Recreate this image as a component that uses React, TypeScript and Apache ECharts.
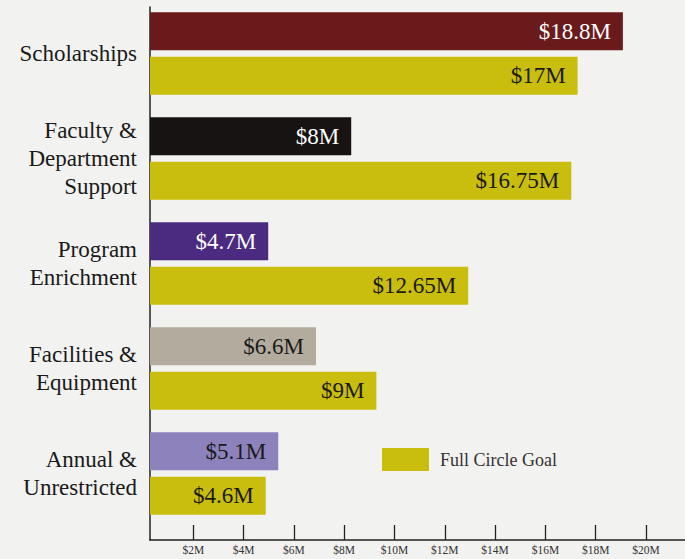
import React, { useEffect, useRef } from "react";
import * as echarts from "echarts";

const categories = [
  "Scholarships",
  "Faculty &\nDepartment\nSupport",
  "Program\nEnrichment",
  "Facilities &\nEquipment",
  "Annual &\nUnrestricted",
];
const raised = [18.8, 8, 4.7, 6.6, 5.1];
const raisedLabels = ["$18.8M", "$8M", "$4.7M", "$6.6M", "$5.1M"];
const goal = [17, 16.75, 12.65, 9, 4.6];
const goalLabels = ["$17M", "$16.75M", "$12.65M", "$9M", "$4.6M"];
const goalName = "Full Circle Goal";

const raisedColors = ["#6b1a1b", "#171313", "#4b2b7f", "#b3ab9d", "#8d82bc"];
const raisedLabelColors = ["#ffffff", "#ffffff", "#ffffff", "#1a1a1a", "#1a1a1a"];
const goalColor = "#c9bd0e";
const FONT = "'Liberation Serif', 'DejaVu Serif', serif";

export default function App() {
  const ref = useRef<HTMLDivElement>(null);
  useEffect(() => {
    if (!ref.current) return;
    const chart = echarts.init(ref.current, null, { renderer: "svg" });
    const dataMax = 21.27;
    const tickShift = 0.28;
    chart.setOption({
      animation: false,
      backgroundColor: "#f2f2f0",
      textStyle: { fontFamily: FONT },
      grid: [
        { left: 150, right: 0, top: 1, height: 525 },
        { left: 150, right: 0, top: 7, bottom: 19 },
      ],
      xAxis: [
        { type: "value", gridIndex: 0, min: 0, max: dataMax, show: false },
        {
          type: "value",
          gridIndex: 1,
          min: tickShift,
          max: dataMax + tickShift,
          splitNumber: 10,
          axisLine: { show: true, lineStyle: { color: "#222", width: 1.5 } },
          axisTick: { show: true, inside: true, length: 15, lineStyle: { color: "#222", width: 1.3 } },
          splitLine: { show: false },
          axisLabel: {
            showMinLabel: false,
            showMaxLabel: false,
            margin: 4,
            fontSize: 11.5,
            color: "#333",
            fontFamily: FONT,
            formatter: (v: number) => (Math.abs(v - Math.round(v)) < 1e-6 && Math.round(v) % 2 === 0 ? `$${Math.round(v)}M` : ""),
          },
        },
      ],
      yAxis: [
        {
          type: "category",
          gridIndex: 0,
          inverse: true,
          data: categories,
          axisLine: { show: false },
          axisTick: { show: false },
          axisLabel: {
            margin: 13,
            fontSize: 23,
            lineHeight: 28,
            color: "#1a1a1a",
            align: "right",
            fontFamily: FONT,
          },
        },
        {
          type: "value",
          gridIndex: 1,
          min: 0,
          max: 1,
          axisLine: { show: true, lineStyle: { color: "#222", width: 1.5 } },
          axisTick: { show: false },
          axisLabel: { show: false },
          splitLine: { show: false },
        },
      ],
      legend: {
        data: [goalName],
        left: 382,
        top: 448,
        padding: 0,
        itemWidth: 47,
        itemHeight: 23,
        icon: "rect",
        textStyle: { fontSize: 18, color: "#333", fontFamily: FONT, padding: [0, 0, 0, 6] },
      },
      series: [
        {
          name: "Raised",
          type: "bar",
          xAxisIndex: 0,
          yAxisIndex: 0,
          barWidth: 38,
          barGap: "17%",
          data: raised.map((v, i) => ({
            value: v,
            itemStyle: { color: raisedColors[i] },
            label: { color: raisedLabelColors[i] },
          })),
          label: {
            show: true,
            position: "insideRight",
            distance: 12,
            fontSize: 23,
            fontFamily: FONT,
            formatter: (p: any) => raisedLabels[p.dataIndex],
          },
        },
        {
          name: goalName,
          type: "bar",
          xAxisIndex: 0,
          yAxisIndex: 0,
          barWidth: 38,
          barGap: "17%",
          itemStyle: { color: goalColor },
          data: goal,
          label: {
            show: true,
            position: "insideRight",
            distance: 12,
            fontSize: 23,
            color: "#1a1a1a",
            fontFamily: FONT,
            formatter: (p: any) => goalLabels[p.dataIndex],
          },
        },
      ],
    });
    return () => chart.dispose();
  }, []);
  return (
    <div
      ref={ref}
      style={{ position: "fixed", left: 0, top: 0, width: 685, height: 559 }}
    />
  );
}
